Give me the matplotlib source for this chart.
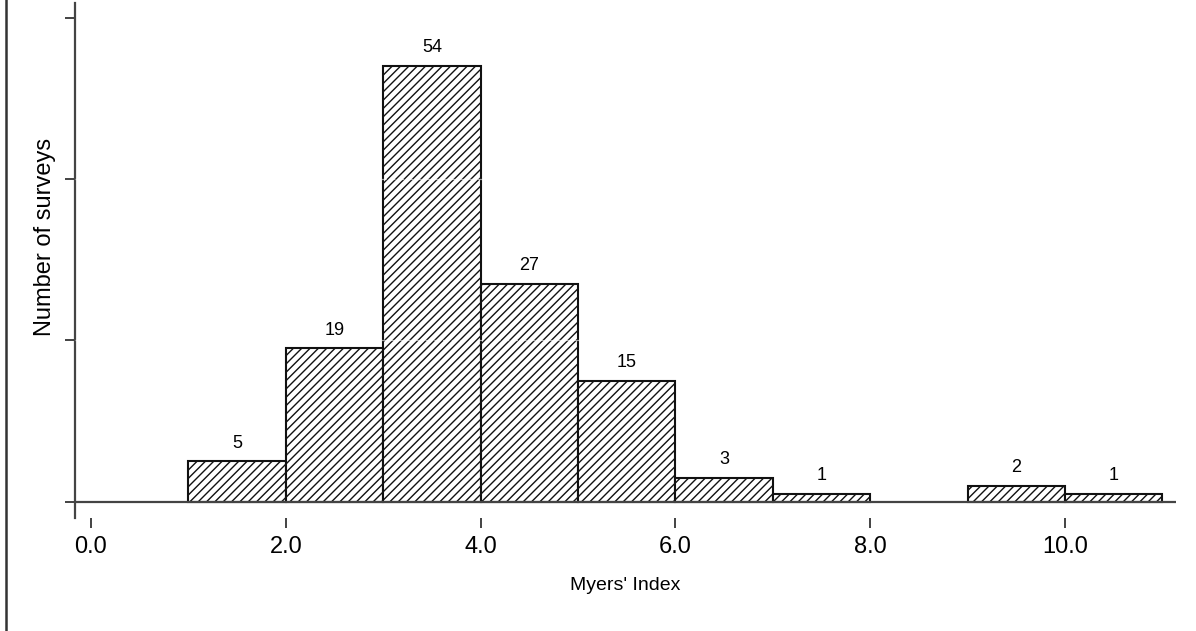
import numpy as np
import matplotlib
matplotlib.use("Agg")
from matplotlib import pyplot as plt
from matplotlib.lines import Line2D

plt.rcParams['font.family'] = ['Liberation Sans', 'DejaVu Sans']
plt.rcParams['hatch.linewidth'] = 1.0
plt.rcParams['hatch.color'] = '#2a2a2a'

# histogram of Myers' Index, bins of width 1
bin_left = [1, 2, 3, 4, 5, 6, 7, 8, 9, 10]
counts = [5, 19, 54, 27, 15, 3, 1, 0, 2, 1]
x_ticks = [0, 2, 4, 6, 8, 10]
x_tick_labels = ["0.0", "2.0", "4.0", "6.0", "8.0", "10.0"]
y_ticks = [0, 20, 40, 60]

W, H = 1196, 631
fig = plt.figure(figsize=(W / 100, H / 100), dpi=100)
ax = fig.add_axes([75 / W, (H - 518) / H, (1176 - 75) / W, (518 - 3) / H])

axis_col = '#444444'

for left, c in zip(bin_left, counts):
    if c == 0:
        continue
    ax.bar(left, c, width=1, align='edge', facecolor='white',
           edgecolor='#111111', linewidth=1.5, hatch='////', zorder=2)
    ax.text(left + 0.5, c + 1.2, str(c), ha='center', va='bottom', fontsize=13)

# faint grid lines that show only through the hatching
for g in [20, 40]:
    ax.axhline(g, color='white', lw=0.9, ls=(0, (4, 3)), alpha=0.6, zorder=3)

ax.axhline(0, color=axis_col, lw=1.6, zorder=4)

ax.set_xlim(-0.164, 11.14)
ax.set_ylim(-2, 61.8)

for s in ['top', 'right', 'bottom']:
    ax.spines[s].set_visible(False)
ax.spines['left'].set_color(axis_col)
ax.spines['left'].set_linewidth(1.6)

ax.set_yticks(y_ticks)
ax.set_yticklabels([])
ax.tick_params(axis='y', direction='out', length=7, width=1.2, color='#222222')

ax.set_xticks(x_ticks)
ax.set_xticklabels(x_tick_labels, fontsize=17)
ax.tick_params(axis='x', direction='out', length=7, width=1.2, color='#222222', pad=6)

ax.set_xlabel("Myers' Index", fontsize=14, labelpad=14)
ax.set_ylabel("Number of surveys", fontsize=17)
ax.yaxis.set_label_coords(-0.017, 0.546)

# border line at the left edge of the picture
fig.add_artist(Line2D([5.5 / W, 5.5 / W], [0, 1], color='#333333', lw=1.8))

fig.savefig("out.png", dpi=100)
